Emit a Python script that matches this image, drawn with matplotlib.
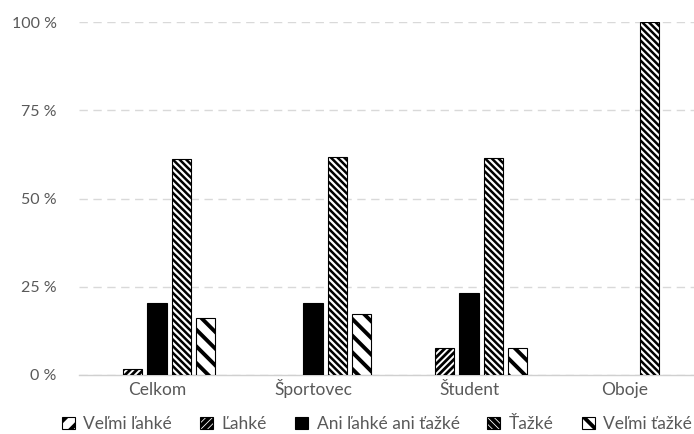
import matplotlib
matplotlib.use("Agg")
import matplotlib.pyplot as plt
from matplotlib.patches import Patch
import numpy as np

plt.rcParams['font.family'] = ['Lato', 'DejaVu Sans']

categories = ["Celkom", "Športovec", "Študent", "Oboje"]
series_names = ["Veľmi ľahké", "Ľahké", "Ani ľahké ani ťažké", "Ťažké", "Veľmi ťažké"]
velmi_lahke = [0.0, 0.0, 0.0, 0.0]
lahke = [1.6, 0.0, 7.7, 0.0]
ani_ani = [20.3, 20.5, 23.1, 0.0]
tazke = [61.2, 61.8, 61.5, 100.0]
velmi_tazke = [16.1, 17.4, 7.7, 0.0]
y_ticks = [0, 25, 50, 75, 100]
y_labels = ["0 %", "25 %", "50 %", "75 %", "100 %"]

values = [velmi_lahke, lahke, ani_ani, tazke, velmi_tazke]
styles = [
    dict(facecolor="white", hatch="//", hatch_lw=4.0),
    dict(facecolor="white", hatch="/////", hatch_lw=2.0),
    dict(facecolor="black", hatch=None, hatch_lw=1.0),
    dict(facecolor="white", hatch="\\\\\\\\\\", hatch_lw=1.8),
    dict(facecolor="white", hatch="\\\\", hatch_lw=2.8),
]

fig = plt.figure(figsize=(6.94, 4.34), dpi=100)
ax = fig.add_axes([79 / 694, 1 - 375 / 434, 624 / 694, 353 / 434])

x = np.arange(len(categories))
width = 0.122
step = 0.154
handles = []
for i, (name, vals, st) in enumerate(zip(series_names, values, styles)):
    plt.rcParams['hatch.linewidth'] = st["hatch_lw"]
    bars = ax.bar(x + (i - 2) * step, vals, width, facecolor=st["facecolor"],
                  edgecolor="black", linewidth=0.8, hatch=st["hatch"],
                  label=name, zorder=3)
    for b, v in zip(bars, vals):
        if v == 0:
            b.set_linewidth(0)
            b.set_hatch(None)
    handles.append(Patch(facecolor=st["facecolor"], edgecolor="black",
                         linewidth=0.8, hatch=st["hatch"], label=name))

ax.set_xlim(-0.5, 3.5)
ax.set_ylim(0, 100)
ax.set_yticks(y_ticks)
ax.set_yticklabels(y_labels)
ax.set_xticks(x)
ax.set_xticklabels(categories, va="baseline")
ax.tick_params(axis="y", length=0, labelsize=11.5, colors="#595959", pad=16)
ax.tick_params(axis="x", length=0, labelsize=12.5, colors="#595959", pad=14.4)
ax.yaxis.grid(True, color="#d9d9d9", linestyle=(0, (6, 4)), linewidth=1.0, zorder=0)
for side in ["top", "right", "left"]:
    ax.spines[side].set_visible(False)
ax.spines["bottom"].set_color("#d0d0d0")
ax.spines["bottom"].set_linewidth(1.0)
ax.set_axisbelow(True)

fig.legend(handles=handles, labels=series_names, loc="center",
           bbox_to_anchor=(377 / 694, 1 - 424 / 434), ncol=5, frameon=False,
           fontsize=12.5, labelcolor="#595959", handlelength=0.75,
           handleheight=0.75, handletextpad=0.5, columnspacing=1.6,
           borderaxespad=0, borderpad=0)

fig.savefig("out.png", dpi=100)
